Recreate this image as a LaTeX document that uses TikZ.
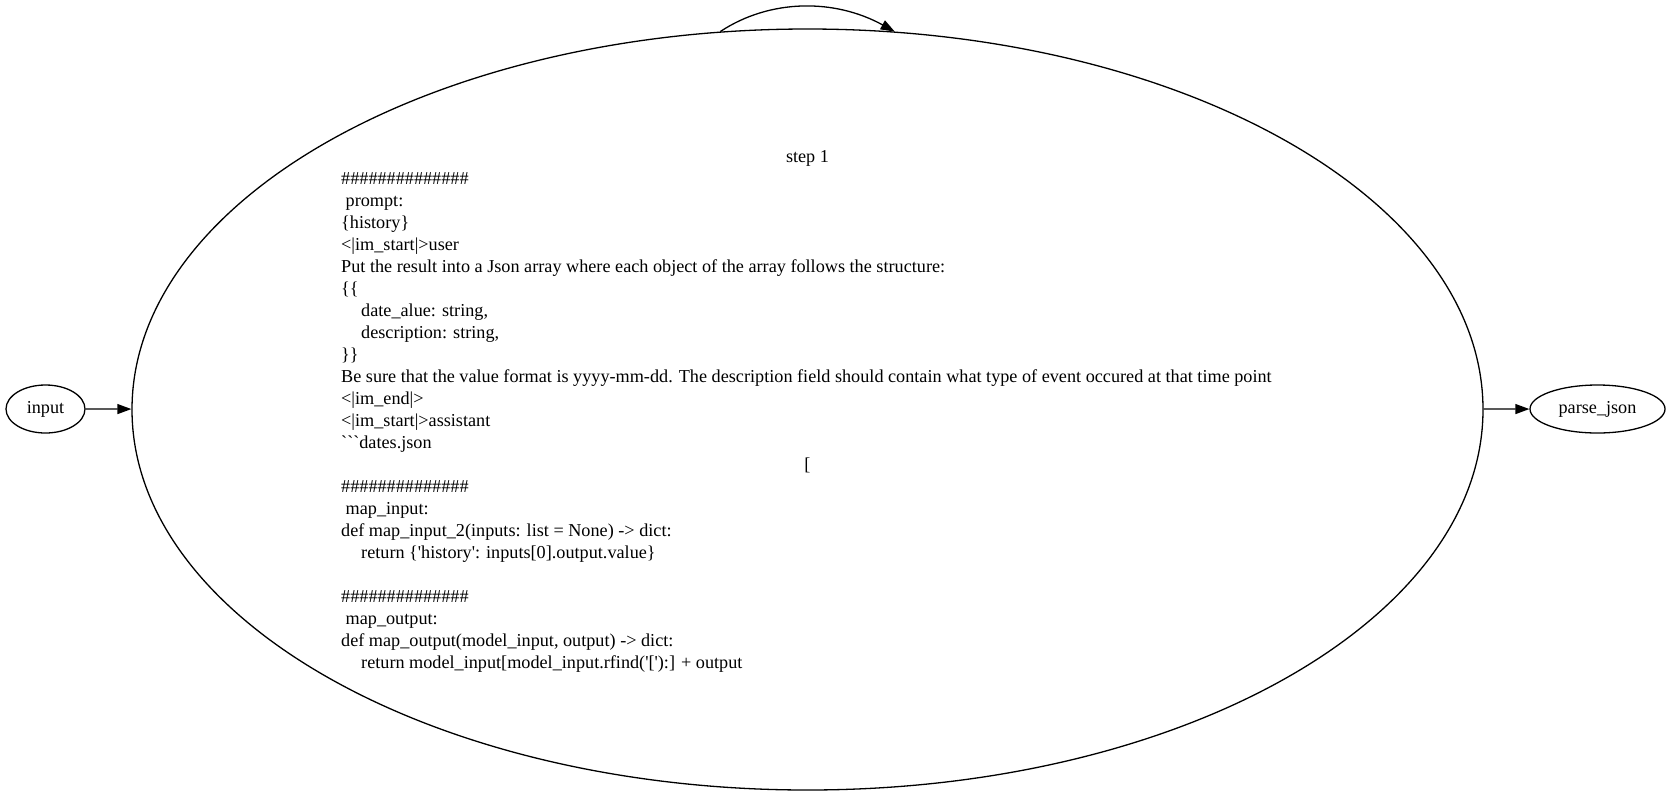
\documentclass[tikz,border=0pt]{standalone}
\usepackage{fontspec}
\setmainfont{Liberation Serif}
\usetikzlibrary{shapes.geometric,arrows.meta}
\tikzset{
  ell/.style={draw, ellipse, line width=1.3pt, inner sep=0pt, font=\fontsize{18.2}{21}\selectfont},
  ln/.style={inner sep=0pt, anchor=base west, font=\fontsize{18.2}{21}\selectfont},
  lc/.style={inner sep=0pt, anchor=base, font=\fontsize{18.2}{21}\selectfont},
  arr/.style={line width=1.3pt, -{Triangle[length=14pt,width=10pt]}}
}
\begin{document}
\begin{tikzpicture}[x=1pt,y=-1pt]
\useasboundingbox (0,0) rectangle (1670,796);
\node[ell, minimum width=79pt, minimum height=48pt] (in) at (45.5,409) {input};
\node[ell, minimum width=1351pt, minimum height=761pt] (s) at (807.5,409.5) {};
\node[ell, minimum width=135pt, minimum height=48pt] (pj) at (1597.5,409) {parse\_json};
\def\L{341}
\node[lc] (t0) at (807.5,162) {step 1};
\node[ln] (t1) at (\L,184) {\#\#\#\#\#\#\#\#\#\#\#\#\#\#};
\node[ln] (t2) at (\L,206) {\hspace*{4.5pt}prompt:};
\node[ln] (t3) at (\L,228) {\{history\}};
\node[ln] (t4) at (\L,250) {<|im\_start|>user};
\node[ln] (t5) at (\L,272) {Put the result into a Json array where each object of the array follows the structure:};
\node[ln] (t6) at (\L,294) {\{\{};
\node[ln] (t7) at (\L,316) {\hspace*{20pt}date\_alue: string,};
\node[ln] (t8) at (\L,338) {\hspace*{20pt}description: string,};
\node[ln] (t9) at (\L,360) {\}\}};
\node[ln] (t10) at (\L,382) {Be sure that the value format is yyyy-mm-dd. The description field should contain what type of event occured at that time point};
\node[ln] (t11) at (\L,404) {<|im\_end|>};
\node[ln] (t12) at (\L,426) {<|im\_start|>assistant};
\node[ln] (t13) at (\L,448) {\textasciigrave\textasciigrave\textasciigrave dates.json};
\node[lc] (t14) at (807.5,470) {[};
\node[ln] (t15) at (\L,492) {\#\#\#\#\#\#\#\#\#\#\#\#\#\#};
\node[ln] (t16) at (\L,514) {\hspace*{4.5pt}map\_input:};
\node[ln] (t17) at (\L,536) {def map\_input\_2(inputs: list = None) -> dict:};
\node[ln] (t18) at (\L,558) {\hspace*{20pt}return \{\textquotesingle history\textquotesingle: inputs[0].output.value\}};
\node[ln] (t20) at (\L,602) {\#\#\#\#\#\#\#\#\#\#\#\#\#\#};
\node[ln] (t21) at (\L,624) {\hspace*{4.5pt}map\_output:};
\node[ln] (t22) at (\L,646) {def map\_output(model\_input, output) -> dict:};
\node[ln] (t23) at (\L,668) {\hspace*{20pt}return model\_input[model\_input.rfind(\textquotesingle[\textquotesingle):] + output};
\draw[arr] (in) -- (s);
\draw[arr] (s) -- (pj);
\draw[arr] (s.103) .. controls +(50,-33) and +(-60,-33) .. (s.77);
\end{tikzpicture}
\end{document}
